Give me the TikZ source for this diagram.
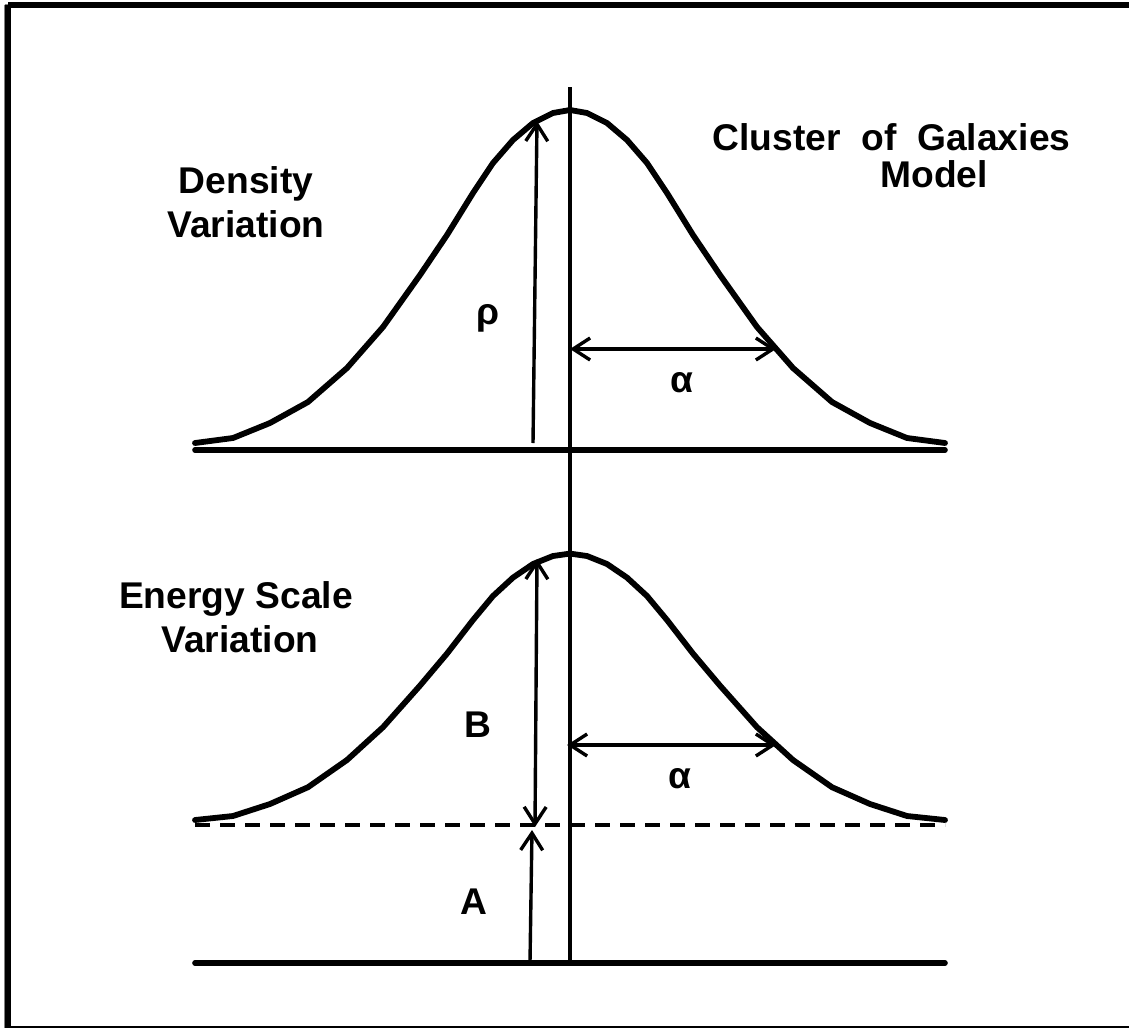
\documentclass[tikz,border=0pt]{standalone}
\usepackage{fontspec}
\setmainfont{Liberation Sans}
\usetikzlibrary{arrows.meta}
\newcommand\bellpath[2]{(195,{#1-#2*0}) -- (233,{#1-#2*5}) -- (270,{#1-#2*20}) -- (308,{#1-#2*41}) -- (347,{#1-#2*75}) -- (383,{#1-#2*116}) -- (420,{#1-#2*168}) -- (447,{#1-#2*208}) -- (473,{#1-#2*250}) -- (493,{#1-#2*280}) -- (513,{#1-#2*303}) -- (533,{#1-#2*320}) -- (553,{#1-#2*330}) -- (570,{#1-#2*333}) -- (587,{#1-#2*330}) -- (607,{#1-#2*320}) -- (627,{#1-#2*303}) -- (647,{#1-#2*280}) -- (667,{#1-#2*250}) -- (693,{#1-#2*208}) -- (720,{#1-#2*168}) -- (757,{#1-#2*116}) -- (793,{#1-#2*75}) -- (832,{#1-#2*41}) -- (870,{#1-#2*20}) -- (907,{#1-#2*5}) -- (945,{#1-#2*0})}
\begin{document}
\begin{tikzpicture}[x=0.5pt,y=-0.5pt,
  bell/.style={line width=2.9pt,line join=round,line cap=round},
  baseln/.style={line width=2.8pt,line cap=round},
  axisln/.style={line width=1.7pt},
  dim/.style={line width=1.7pt,arrows={-Straight Barb[length=8.5pt,width=11pt,line width=1.7pt]}},
  dimboth/.style={line width=1.7pt,arrows={Straight Barb[length=8.5pt,width=11pt,line width=1.7pt]-Straight Barb[length=8.5pt,width=11pt,line width=1.7pt]}},
  lbl/.style={font=\bfseries\fontsize{18.6}{22.3}\selectfont,inner sep=0pt,anchor=base},
  glbl/.style={font=\bfseries\fontsize{18.6}{22.3}\selectfont,inner sep=0pt,anchor=base}]
\useasboundingbox (0,0) rectangle (1129,1028);
\fill[white] (0,0) rectangle (1129,1028);
% frame
\draw[gray,line width=0.5pt] (4.5,4.5) -- (1129,4.5);
\draw[gray,line width=0.5pt] (4.5,4.5) -- (4.5,1028);
\draw[line width=3pt] (8,5) -- (1129,5) ;
\draw[line width=3pt] (8,5) -- (8,1028);
\draw[line width=0.6pt] (8,1027) -- (1129,1027);
% coordinates
\coordinate (vtop) at (570,87);
\coordinate (vbot) at (570,963);
\coordinate (b1l) at (195,450);
\coordinate (b1r) at (945,450);
\coordinate (b2l) at (195,963);
\coordinate (b2r) at (945,963);
\coordinate (dl) at (195,825);
\coordinate (dr) at (945,825);
\coordinate (rho0) at (533,443);
\coordinate (rho1) at (537,121);
\coordinate (a1l) at (570,349);
\coordinate (a1r) at (776,349);
\coordinate (a2l) at (567,745);
\coordinate (a2r) at (776,745);
\coordinate (B0) at (535,827);
\coordinate (B1) at (537,559);
\coordinate (A0) at (530,962);
\coordinate (A1) at (532,830);
% curves and lines
\draw[bell] \bellpath{443}{1};
\draw[bell] \bellpath{820}{0.8};
\draw[baseln] (b1l) -- (b1r);
\draw[baseln] (b2l) -- (b2r);
\draw[line width=1.6pt,dash pattern=on 7.5pt off 5pt] (dl) -- (dr);
\draw[axisln] (vtop) -- (vbot);
% dimension arrows
\draw[dim] (rho0) -- (rho1);
\draw[dimboth] (a1l) -- (a1r);
\draw[dimboth] (a2l) -- (a2r);
\draw[dimboth] (B0) -- (B1);
\draw[dim] (A0) -- (A1);
% labels
\node[glbl] (rho) at (488,324) {ρ};
\node[glbl] (alpha1) at (682,392) {α};
\node[glbl] (alpha2) at (680,788) {α};
\node[lbl] (Blbl) at (478,737) {B};
\node[lbl] (Albl) at (474,914) {A};
\node[lbl] (dens1) at (246,193) {Density};
\node[lbl] (dens2) at (246,237) {Variation};
\node[lbl] (en1) at (236,608) {Energy Scale};
\node[lbl] (en2) at (240,652) {Variation};
\node[lbl,anchor=base west] (cl1) at (712,150) {\makebox[179pt][s]{Cluster\hfill of\hfill Galaxies}};
\node[lbl] (cl2) at (934,187) {Model};
\end{tikzpicture}
\end{document}
